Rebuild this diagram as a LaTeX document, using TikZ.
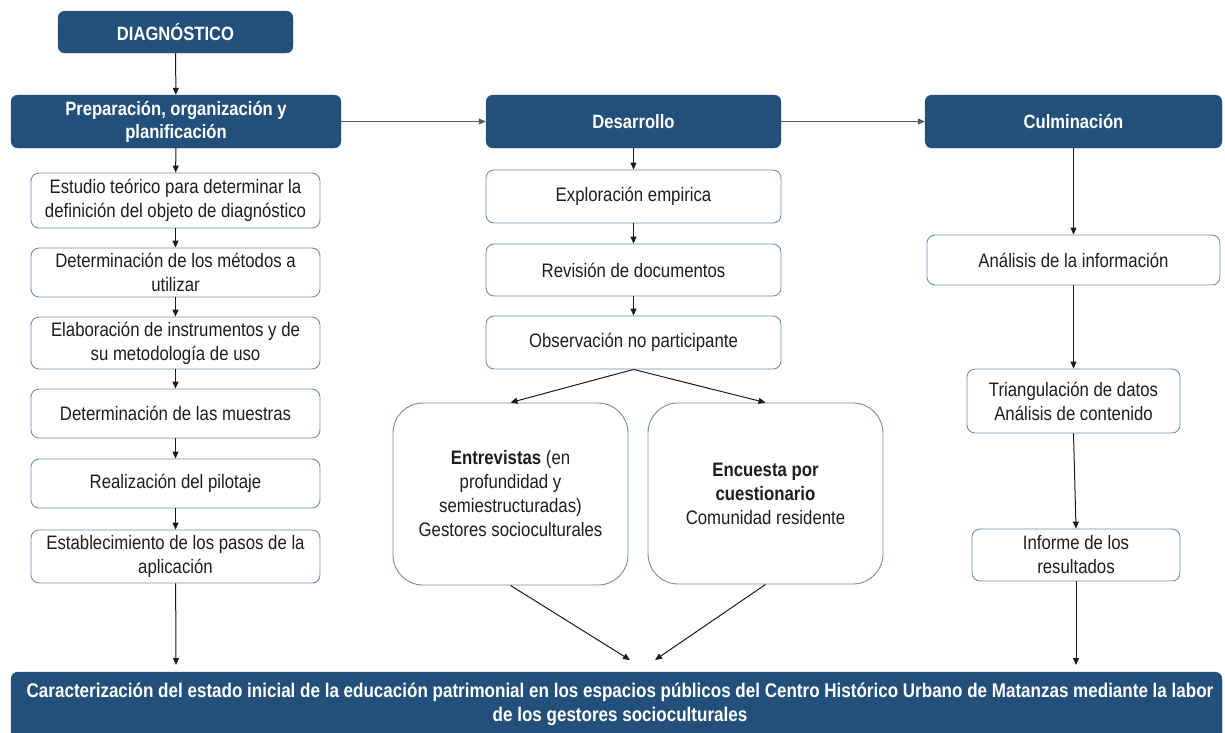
\documentclass[tikz,border=0pt]{standalone}
\usepackage{fontspec}
\setmainfont{Liberation Sans}[FakeStretch=0.86]
\usetikzlibrary{arrows.meta}
\definecolor{navy}{HTML}{22507A}
\definecolor{edgeblue}{HTML}{6F8DB0}
\definecolor{txt}{HTML}{1E1E1E}
\definecolor{arr}{HTML}{1A1A1A}
\begin{document}
\begin{tikzpicture}[x=1pt,y=-1pt,
  darkbox/.style={draw=navy,fill=navy,rounded corners=7pt,text=white,font=\fontsize{19.3}{23}\selectfont\bfseries,align=center,inner sep=0pt},
  lightbox/.style={draw=edgeblue,line width=0.9pt,fill=white,rounded corners=8pt,text=txt,font=\fontsize{19.5}{24}\selectfont,align=center,inner sep=0pt},
  bigbox/.style={lightbox,rounded corners=30pt},
  conn/.style={draw=arr,line width=1pt,-{Triangle[length=7pt,width=6pt]}},
  hconn/.style={draw=black!65,line width=1.1pt,-{Triangle[length=7pt,width=6pt]}}
]
\useasboundingbox (0,0) rectangle (1225,732);
% dark header boxes
\node[darkbox,minimum width=235pt,minimum height=42pt] (diag) at (175.5,32) {DIAGNÓSTICO};
\node[darkbox,minimum width=330pt,minimum height=53pt] (prep) at (176,121.5) {Preparación, organización y\\planificación};
\node[darkbox,minimum width=295pt,minimum height=53pt] (desa) at (633.5,121.5) {Desarrollo};
\node[darkbox,minimum width=297pt,minimum height=53pt] (culm) at (1073.5,121.5) {Culminación};
\node[darkbox,minimum width=1211pt,minimum height=70pt] (res) at (616.5,707) {};
\node[text=white,font=\fontsize{19.8}{24}\selectfont\bfseries,align=center] (restext) at (620,704) {Caracterización del estado inicial de la educación patrimonial en los espacios públicos del Centro Histórico Urbano de Matanzas mediante la labor\\de los gestores socioculturales};
% left column
\node[lightbox,minimum width=289pt,minimum height=55pt] (est) at (175.5,200.5) {Estudio teórico para determinar la\\definición del objeto de diagnóstico};
\node[lightbox,minimum width=289pt,minimum height=49pt] (metd) at (175.5,272.5) {Determinación de los métodos a\\utilizar};
\node[lightbox,minimum width=289pt,minimum height=52pt] (elab) at (175.5,343) {Elaboración de instrumentos y de\\su metodología de uso};
\node[lightbox,minimum width=289pt,minimum height=49pt] (mues) at (175.5,413.5) {Determinación de las muestras};
\node[lightbox,minimum width=289pt,minimum height=49pt] (pilo) at (175.5,483.5) {Realización del pilotaje};
\node[lightbox,minimum width=289pt,minimum height=53pt] (pasos) at (175.5,556.5) {Establecimiento de los pasos de la\\aplicación};
% middle column
\node[lightbox,minimum width=295pt,minimum height=53pt] (expl) at (633.5,196.5) {Exploración empirica};
\node[lightbox,minimum width=295pt,minimum height=52pt] (revi) at (633.5,270) {Revisión de documentos};
\node[lightbox,minimum width=295pt,minimum height=53pt] (obse) at (633.5,342.5) {Observación no participante};
\node[bigbox,minimum width=235pt,minimum height=182pt] (entr) at (510.5,494) {\textbf{Entrevistas} (en\\profundidad y\\semiestructuradas)\\Gestores socioculturales};
\node[bigbox,minimum width=235pt,minimum height=181pt] (encu) at (765.5,493.5) {\textbf{Encuesta por}\\\textbf{cuestionario}\\Comunidad residente};
% right column
\node[lightbox,minimum width=293pt,minimum height=50pt] (anal) at (1073.5,260) {Análisis de la información};
\node[lightbox,minimum width=213pt,minimum height=64pt] (tria) at (1073.5,401) {Triangulación de datos\\Análisis de contenido};
\node[lightbox,minimum width=208pt,minimum height=52pt] (info) at (1076,555) {Informe de los\\resultados};
% free ends
\coordinate (endL) at (176,665);
\coordinate (endM1) at (630,660);
\coordinate (endM2) at (655,660);
\coordinate (endR) at (1076,665);
% connectors
\draw[conn] (diag) -- (prep);
\draw[conn] (prep) -- (est);
\draw[conn] (est) -- (metd);
\draw[conn] (metd) -- (elab);
\draw[conn] (elab) -- (mues);
\draw[conn] (mues) -- (pilo);
\draw[conn] (pilo) -- (pasos);
\draw[conn] (pasos) -- (endL);
\draw[hconn] (prep) -- (desa);
\draw[hconn] (desa) -- (culm);
\draw[conn] (desa) -- (expl);
\draw[conn] (expl) -- (revi);
\draw[conn] (revi) -- (obse);
\draw[conn] (obse.south) -- (entr.north);
\draw[conn] (obse.south) -- (encu.north);
\draw[conn] (entr.south) -- (endM1);
\draw[conn] (encu.south) -- (endM2);
\draw[conn] (culm) -- (anal);
\draw[conn] (anal) -- (tria);
\draw[conn] (tria.south) -- (info.north);
\draw[conn] (info) -- (endR);
\end{tikzpicture}
\end{document}
